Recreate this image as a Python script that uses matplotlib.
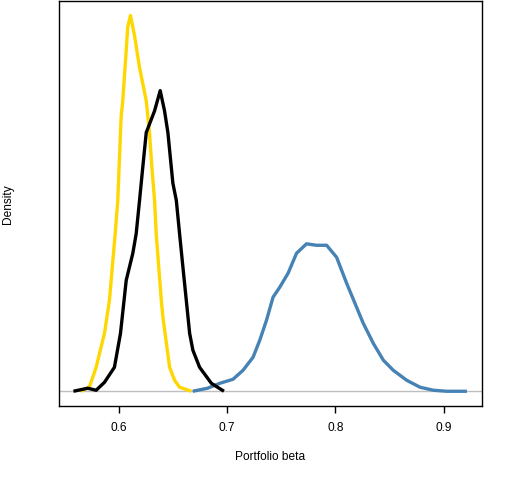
import numpy as np
import matplotlib
matplotlib.use('Agg')
import matplotlib.pyplot as plt

plt.rcParams['font.family'] = ['Liberation Sans', 'DejaVu Sans']

# density estimates of portfolio beta
gold_beta = [0.5650, 0.5727, 0.5789, 0.5866, 0.5912, 0.5965, 0.5989, 0.6020, 0.6035,
             0.6067, 0.6081, 0.6106, 0.6144, 0.6190, 0.6252, 0.6282, 0.6304, 0.6329,
             0.6344, 0.6391, 0.6406, 0.6468, 0.6514, 0.6560, 0.6669]
gold_dens = [0.00, 0.30, 1.66, 4.01, 6.30, 10.9, 13.2, 19.0, 20.1,
             23.6, 25.2, 26.0, 24.6, 22.4, 20.1, 17.9, 15.5, 13.2,
             10.9, 6.30, 5.12, 1.66, 0.76, 0.28, 0.00]

black_beta = [0.5579, 0.5711, 0.5789, 0.5866, 0.5958, 0.6014, 0.6067, 0.6128, 0.6159,
              0.6190, 0.6220, 0.6252, 0.6329, 0.6381, 0.6421, 0.6452, 0.6498, 0.6530,
              0.6560, 0.6591, 0.6622, 0.6653, 0.6683, 0.6745, 0.6854, 0.6970]
black_dens = [0.00, 0.21, 0.07, 0.62, 1.66, 4.01, 7.68, 9.55, 10.9,
              13.2, 15.5, 17.9, 19.4, 20.8, 19.4, 17.9, 14.4, 13.2,
              10.9, 8.58, 6.30, 4.01, 2.84, 1.66, 0.55, 0.00]

blue_beta = [0.6681, 0.6819, 0.6931, 0.7054, 0.7146, 0.7239, 0.7301, 0.7363, 0.7424,
             0.7486, 0.7563, 0.7641, 0.7733, 0.7826, 0.7919, 0.8011, 0.8104, 0.8196,
             0.8257, 0.8350, 0.8443, 0.8535, 0.8659, 0.8782, 0.8906, 0.9030, 0.9215]
blue_dens = [0.00, 0.21, 0.55, 0.83, 1.45, 2.35, 3.53, 4.91, 6.51,
             7.20, 8.17, 9.55, 10.2, 10.1, 10.1, 9.27, 7.47, 5.81,
             4.71, 3.32, 2.15, 1.45, 0.76, 0.28, 0.07, 0.00, 0.00]

x_ticks = [0.6, 0.7, 0.8, 0.9]

fig = plt.figure(figsize=(5.12, 4.8), dpi=100)
ax = fig.add_axes([58.7 / 512, 1 - 406.3 / 480, (481.7 - 58.7) / 512, (406.3 - 1) / 480])

ax.axhline(0, color='#BEBEBE', linewidth=1, zorder=1)
line_kw = dict(linewidth=2.4, solid_capstyle='butt', solid_joinstyle='round')
ax.plot(blue_beta, blue_dens, color='#4682B4', zorder=2, **line_kw)
ax.plot(gold_beta, gold_dens, color='#FFD700', zorder=3, **line_kw)
ax.plot(black_beta, black_dens, color='black', zorder=4, **line_kw)

ax.set_xlim(0.5443, 0.9352)
ax.set_ylim(-1.04, 27.0)
ax.set_xticks(x_ticks)
ax.set_xticklabels([str(t) for t in x_ticks])
ax.set_yticks([])
ax.tick_params(axis='x', length=5, width=1, pad=6.5, labelsize=8.6, color='black')
for s in ax.spines.values():
    s.set_linewidth(1)

ax.set_xlabel('Portfolio beta', fontsize=8.6, labelpad=12)
ax.set_ylabel('Density', fontsize=8.6)
# label anchor is its right edge once rotated
ax.yaxis.set_label_coords(-(58.7 - 14.5) / (481.7 - 58.7), 0.5)

fig.savefig('out.png', dpi=100)
